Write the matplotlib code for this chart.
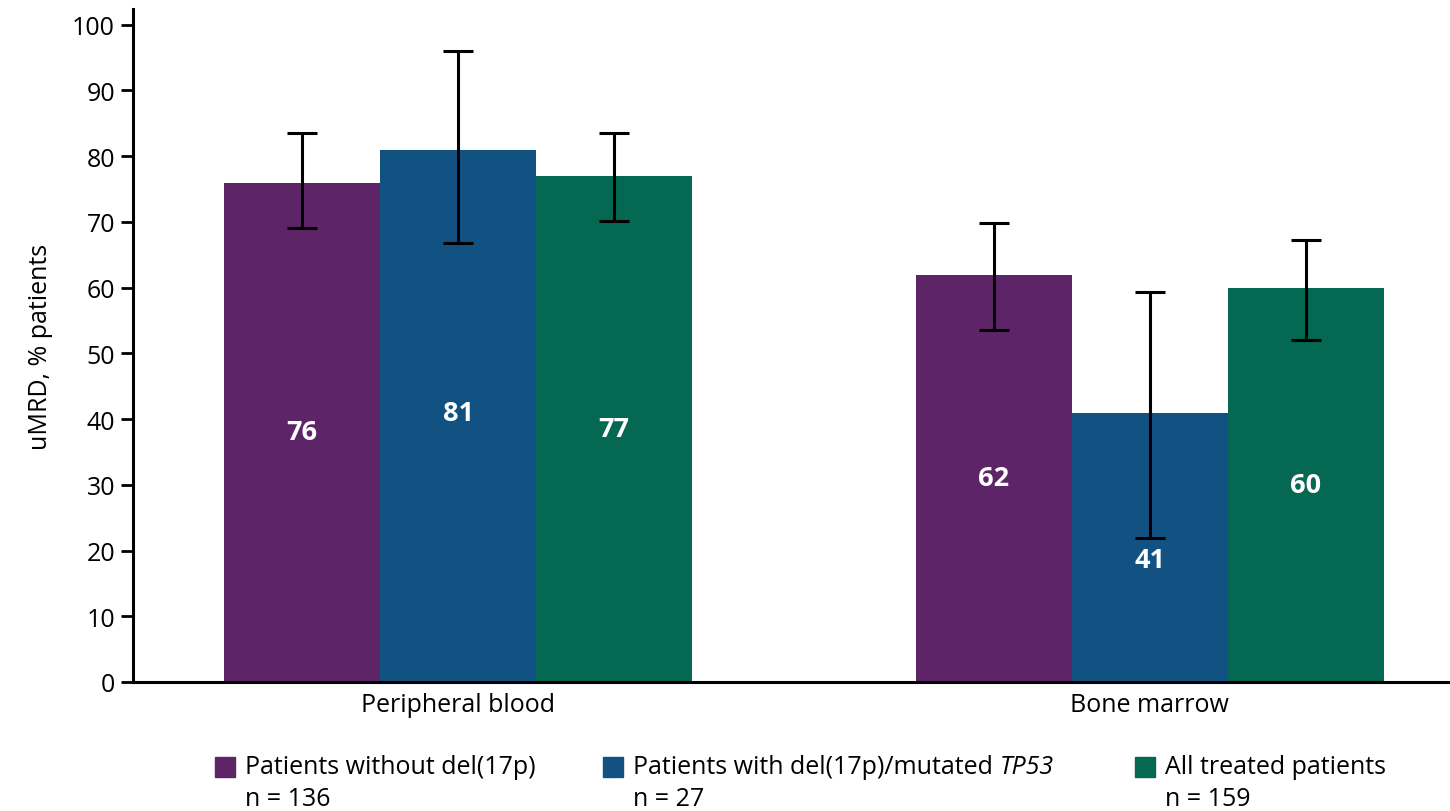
import matplotlib
matplotlib.use("Agg")
import numpy as np
import matplotlib.pyplot as plt
from matplotlib.patches import Rectangle

# data
sites = ["Peripheral blood", "Bone marrow"]
groups = ["Patients without del(17p)", "Patients with del(17p)/mutated ",
          "All treated patients"]
group_italic = ["", "TP53", ""]
group_n = ["n = 136", "n = 27", "n = 159"]
colors = ["#5E2468", "#115283", "#056852"]

umrd = [[76, 62], [81, 41], [77, 60]]
ci_low = [[69.1, 53.6], [66.8, 21.9], [70.1, 52.1]]
ci_high = [[83.5, 69.8], [96.0, 59.3], [83.5, 67.3]]
label_y = [[38, 31], [41, 18.5], [38.5, 30]]

plt.rcParams["font.family"] = ["Open Sans", "DejaVu Sans"]

fig = plt.figure(figsize=(14.5, 8.12), dpi=100)
ax = fig.add_axes([133 / 1450, 1 - 683 / 812, 1 - 133 / 1450, (683 - 10) / 812])

x = np.arange(len(sites))
width = 0.2254
for i in range(len(groups)):
    pos = x + (i - 1) * width
    vals = np.asarray(umrd[i], float)
    lo = vals - np.asarray(ci_low[i])
    hi = np.asarray(ci_high[i]) - vals
    ax.bar(pos, vals, width, color=colors[i], zorder=2)
    ax.errorbar(pos, vals, yerr=[lo, hi], fmt="none", ecolor="black",
                elinewidth=2.2, capsize=11, capthick=2.2, zorder=3)
    for p, v, ly in zip(pos, umrd[i], label_y[i]):
        ax.text(p, ly, str(v), ha="center", va="center", color="white",
                fontsize=19.5, fontweight="bold", zorder=4)

ax.set_xlim(-0.47, 1.434)
ax.set_ylim(0, 102.4)
ax.set_yticks(np.arange(0, 101, 10))
ax.set_xticks(x)
ax.set_xticklabels(sites)
ax.tick_params(axis="y", length=9, width=2, labelsize=18, pad=4)
ax.tick_params(axis="x", length=0, labelsize=18, pad=7)
ax.set_ylabel("uMRD, % patients", fontsize=18, labelpad=14)
for side in ["top", "right"]:
    ax.spines[side].set_visible(False)
for side in ["left", "bottom"]:
    ax.spines[side].set_linewidth(2.2)

# legend below the axes: square, name (part italic), and n on a second line
leg_x = [215, 603, 1135]
for lx, name, it, n, c in zip(leg_x, groups, group_italic, group_n, colors):
    fig.patches.append(Rectangle((lx / 1450, 1 - 778 / 812), 20 / 1450, 20 / 812,
                                 transform=fig.transFigure, color=c))
    t = fig.text((lx + 30) / 1450, 1 - 768 / 812, name, fontsize=18, va="center")
    if it:
        ax.annotate(it, xy=(1, 0.5), xycoords=t, fontsize=18, style="italic",
                    va="center", ha="left", annotation_clip=False)
    fig.text((lx + 30) / 1450, 1 - 800 / 812, n, fontsize=18, va="center")

fig.savefig("out.png", dpi=100)
